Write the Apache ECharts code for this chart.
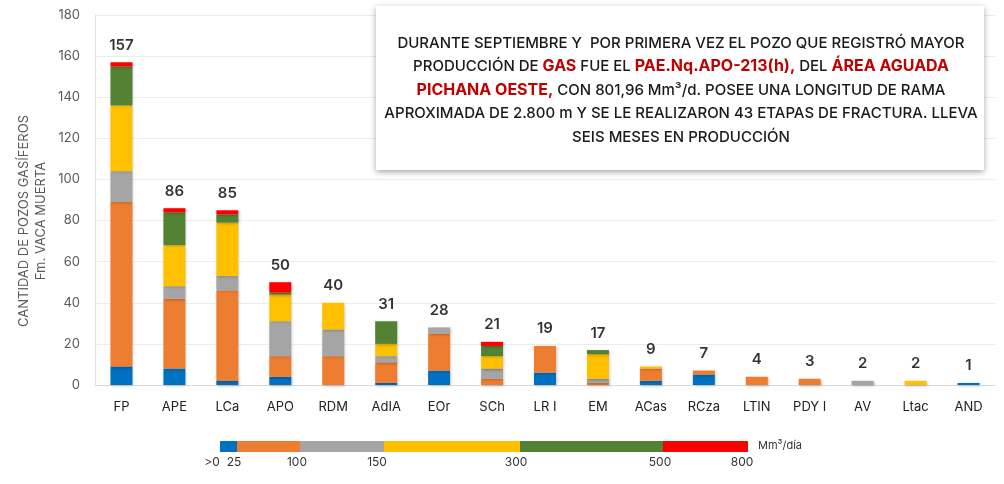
<!DOCTYPE html>
<html>
<head>
<meta charset="utf-8">
<script src="https://cdn.jsdelivr.net/npm/echarts@6/dist/echarts.min.js"></script>
<style>
html, body { margin: 0; padding: 0; background: #fff; }
#main { width: 1004px; height: 484px; }
</style>
</head>
<body>
<div id="main"></div>
<script>
// yacimientos (eje x)
var categories = ['FP', 'APE', 'LCa', 'APO', 'RDM', 'AdIA', 'EOr', 'SCh', 'LR I', 'EM', 'ACas', 'RCza', 'LTIN', 'PDY I', 'AV', 'Ltac', 'AND']

// cantidad de pozos por rango de produccion (Mm3/dia)
var r0_25 = [9, 8, 2, 4, 0, 1, 7, 0, 6, 0, 2, 5, 0, 0, 0, 0, 1]
var r25_100 = [80, 34, 44, 10, 14, 10, 18, 3, 13, 1, 6, 2, 4, 3, 0, 0, 0]
var r100_150 = [15, 6, 7, 17, 13, 3, 3, 5, 0, 2, 0, 0, 0, 0, 2, 0, 0]
var r150_300 = [32, 20, 26, 13, 13, 6, 0, 6, 0, 12, 1, 0, 0, 0, 0, 2, 0]
var r300_500 = [19, 16, 4, 1, 0, 11, 0, 5, 0, 2, 0, 0, 0, 0, 0, 0, 0]
var r500_800 = [2, 2, 2, 5, 0, 0, 0, 2, 0, 0, 0, 0, 0, 0, 0, 0, 0]

var rangeNames = ['0-25', '25-100', '100-150', '150-300', '300-500', '500-800']
var rangeLabels = ['>0', '25', '100', '150', '300', '500', '800']
var yTicks = [0, 20, 40, 60, 80, 100, 120, 140, 160, 180]

var colors = ['#0070C0', '#ED7D31', '#A5A5A5', '#FFC000', '#548235', '#FF0000']
var ranges = [r0_25, r25_100, r100_150, r150_300, r300_500, r500_800]

var totals = categories.map(function (c, i) {
  var s = 0
  ranges.forEach(function (r) { s += r[i] })
  return s
})

var chart = echarts.init(document.getElementById('main'))
var font = 'Inter, Roboto, sans-serif'

var series = ranges.map(function (r, k) {
  return {
    name: rangeNames[k],
    type: 'bar',
    stack: 'pozos',
    barWidth: 22,
    data: r,
    itemStyle: {
      color: colors[k],
      shadowBlur: 3,
      shadowColor: 'rgba(0,0,0,0.25)',
      shadowOffsetX: 1,
      shadowOffsetY: 1
    }
  }
})
series.push({
  name: 'total',
  type: 'scatter',
  data: totals,
  symbolSize: 1,
  itemStyle: { color: 'rgba(0,0,0,0)' },
  label: {
    show: true,
    position: 'top',
    distance: 9,
    fontFamily: font,
    fontSize: 15,
    fontWeight: 600,
    color: '#000'
  },
  z: 10
})

// leyenda de colores (graficos fijos)
var legX = [220, 237, 300, 384, 520, 663, 748]
var legLabelX = [212, 234, 297, 377, 516, 660, 742]
var graphics = []
for (var k = 0; k < colors.length; k++) {
  graphics.push({
    type: 'rect',
    shape: { x: legX[k], y: 441, width: legX[k + 1] - legX[k], height: 11 },
    style: { fill: colors[k] }
  })
}
rangeLabels.forEach(function (t, k) {
  graphics.push({
    type: 'text',
    x: legLabelX[k],
    y: 462,
    style: { text: t, fontFamily: font, fontSize: 12, fill: '#333', align: 'center', verticalAlign: 'middle' }
  })
})
graphics.push({
  type: 'text',
  x: 758,
  y: 446,
  style: { text: 'Mm³/día', fontFamily: font, fontSize: 11, fill: '#333', align: 'left', verticalAlign: 'middle' }
})

// titulo eje y
graphics.push({
  type: 'text',
  x: 33,
  y: 221,
  rotation: Math.PI / 2,
  style: {
    text: 'CANTIDAD DE POZOS GASÍFEROS\nFm. VACA MUERTA',
    fontFamily: font,
    fontSize: 13,
    lineHeight: 17,
    fill: '#595959',
    align: 'center',
    verticalAlign: 'middle'
  }
})

// recuadro de texto
graphics.push({
  type: 'rect',
  shape: { x: 376, y: 6, width: 608, height: 164 },
  style: { fill: '#fff', shadowBlur: 6, shadowColor: 'rgba(0,0,0,0.35)', shadowOffsetX: 0, shadowOffsetY: 2 },
  z: 20
})
graphics.push({
  type: 'text',
  x: 681,
  y: 90,
  z: 21,
  style: {
    text: '{n|DURANTE SEPTIEMBRE Y  POR PRIMERA VEZ EL POZO QUE REGISTRÓ MAYOR}\n' +
      '{n|PRODUCCIÓN DE }{r|GAS}{n| FUE EL }{r|PAE.Nq.APO-213(h),}{n| DEL }{r|ÁREA AGUADA}\n' +
      '{r|PICHANA OESTE,}{n| CON 801,96 Mm³/d. POSEE UNA LONGITUD DE RAMA}\n' +
      '{n|APROXIMADA DE 2.800 m Y SE LE REALIZARON 43 ETAPAS DE FRACTURA. LLEVA}\n' +
      '{n|SEIS MESES EN PRODUCCIÓN}',
    align: 'center',
    verticalAlign: 'middle',
    rich: {
      n: { fontFamily: font, fontSize: 15, fontWeight: 500, fill: '#1a1a1a', lineHeight: 23.5 },
      r: { fontFamily: font, fontSize: 16, fontWeight: 700, fill: '#C00000', lineHeight: 23.5 }
    }
  }
})

var option = {
  animation: false,
  backgroundColor: '#fff',
  grid: { left: 95, right: 9, top: 15, bottom: 99 },
  xAxis: {
    type: 'category',
    data: categories,
    axisLine: { lineStyle: { color: '#d9d9d9', width: 1 } },
    axisTick: { show: false },
    axisLabel: { fontFamily: font, fontSize: 13, color: '#222', margin: 16 }
  },
  yAxis: {
    type: 'value',
    min: yTicks[0],
    max: yTicks[yTicks.length - 1],
    interval: yTicks[1] - yTicks[0],
    axisLine: { show: true, lineStyle: { color: '#e3e3e3' } },
    axisTick: { show: false },
    axisLabel: { fontFamily: font, fontSize: 13, color: '#595959', margin: 15 },
    splitLine: { lineStyle: { color: '#ececec' } }
  },
  graphic: graphics,
  series: series
}

chart.setOption(option)
</script>
</body>
</html>
